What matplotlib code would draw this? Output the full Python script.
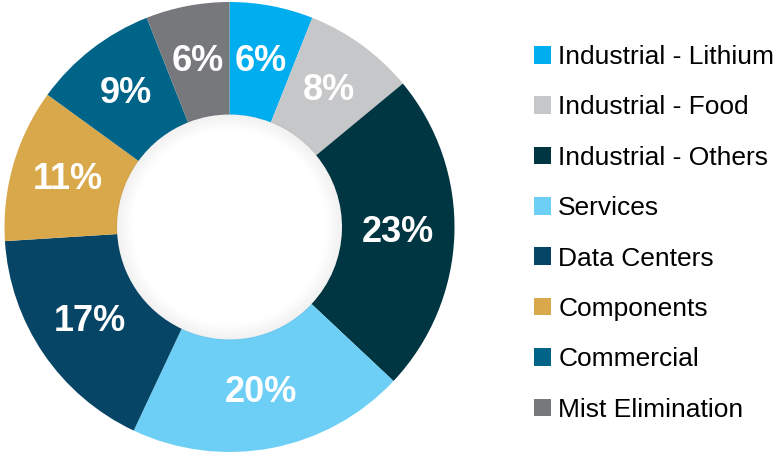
import matplotlib.pyplot as plt
from matplotlib.patches import Patch, Circle

# segment data (percent of total)
segments = ["Industrial - Lithium", "Industrial - Food", "Industrial - Others", "Services",
            "Data Centers", "Components", "Commercial", "Mist Elimination"]
shares = [6, 8, 23, 20, 17, 11, 9, 6]
colors = ["#00AEEF", "#C6C7C9", "#003542", "#6DCFF6",
          "#074566", "#D9A84A", "#006489", "#77787C"]

font = ["Liberation Sans", "DejaVu Sans"]

fig = plt.figure(figsize=(7.74, 4.54), dpi=100)
# square axes holding the donut, centred at (229.5, 227) px with radius 225 px
W, H = 774, 454
r_px = 225
ax = fig.add_axes([(229.5 - r_px) / W, (H - 227 - r_px) / H, 2 * r_px / W, 2 * r_px / H])

wedges, _, autotexts = ax.pie(shares, colors=colors, startangle=90, counterclock=False,
                              radius=1.0, wedgeprops=dict(width=0.5, linewidth=0),
                              autopct=lambda p: f"{p:.0f}%", pctdistance=0.75)
for t in autotexts:
    t.set_color("white")
    t.set_fontsize(26)
    t.set_fontweight("bold")
    t.set_family(font)

# soft shadow inside the hole
for i in range(12):
    ax.add_patch(Circle((0, 0), 0.5 - i * 0.006, facecolor="none",
                        edgecolor="#000000", linewidth=1.6, alpha=0.035 * (1 - i / 12)))

ax.set_xlim(-1, 1)
ax.set_ylim(-1, 1)
ax.axis("off")

handles = [Patch(facecolor=c, edgecolor="none") for c in colors]
fig.legend(handles, segments, loc="upper left", bbox_to_anchor=(534 / W, 1 - 45 / H),
           frameon=False, prop={"family": font, "size": 19},
           handlelength=0.65, handleheight=0.65, handletextpad=0.27,
           labelspacing=1.0, borderpad=0, borderaxespad=0)

fig.savefig("out.png", dpi=100)
